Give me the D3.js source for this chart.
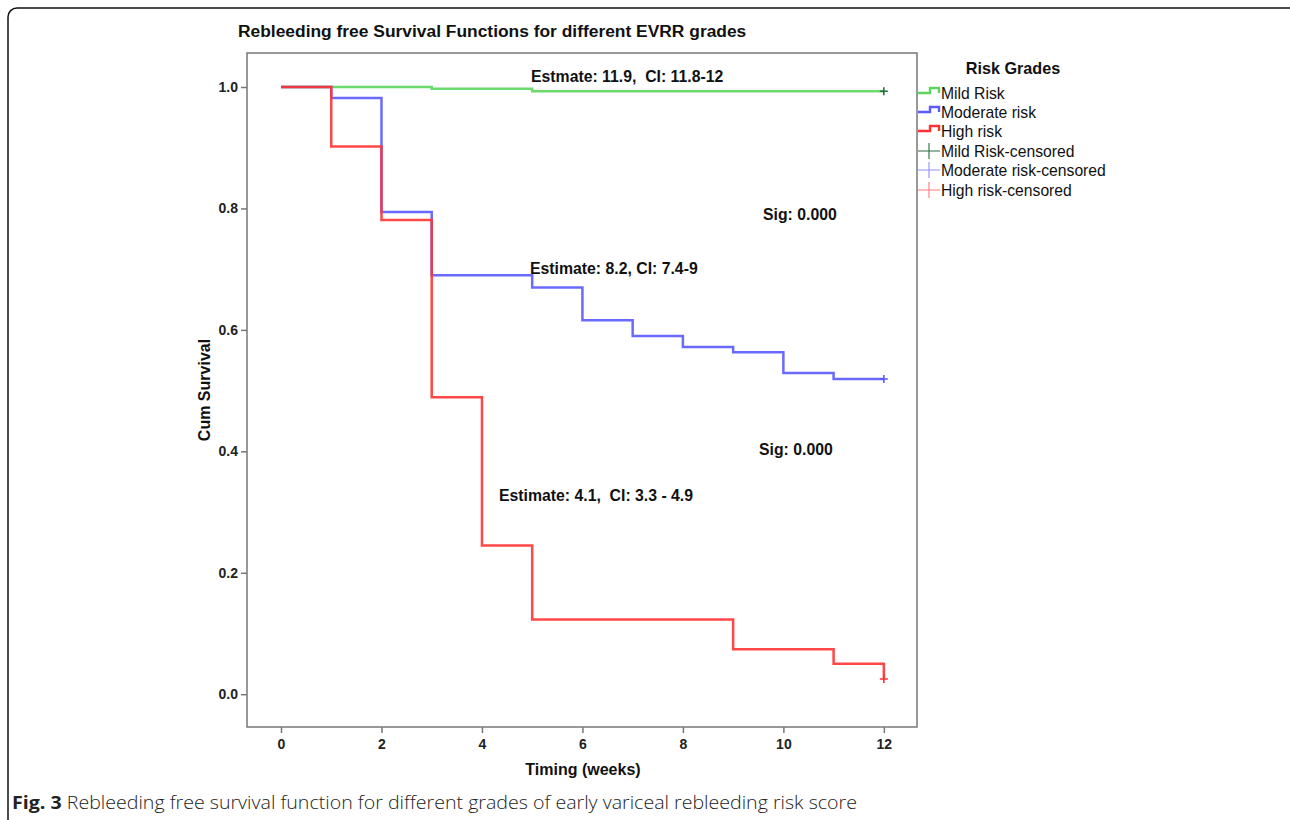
<!DOCTYPE html>
<html>
<head>
<meta charset="utf-8">
<script src="https://cdn.jsdelivr.net/npm/d3@7"></script>
<style>
  body { margin: 0; background: #fff; }
  svg { display: block; }
</style>
</head>
<body>
<svg id="chart" width="1290" height="820"></svg>
<script>
// survival steps: [week, cum survival]
const mildRisk = [[0, 1.0], [3, 0.997], [5, 0.993], [12, 0.993]];
const moderateRisk = [[0, 1.0], [1, 0.982], [2, 0.794], [3, 0.690], [5, 0.670], [6, 0.616],
  [7, 0.590], [8, 0.572], [9, 0.563], [10, 0.529], [11, 0.519], [12, 0.519]];
const highRisk = [[0, 1.0], [1, 0.902], [2, 0.781], [3, 0.489], [4, 0.245], [5, 0.123],
  [9, 0.074], [11, 0.050], [12, 0.025]];
const censored = [[12, 0.993], [12, 0.519], [12, 0.025]];

const seriesNames = ["Mild Risk", "Moderate risk", "High risk"];
const censorNames = ["Mild Risk-censored", "Moderate risk-censored", "High risk-censored"];
const xTicks = [0, 2, 4, 6, 8, 10, 12];
const yTicks = [0.0, 0.2, 0.4, 0.6, 0.8, 1.0];

const lineColors = ["#5cd65c", "#5a5aff", "#ff3333"];
const censorColors = ["#2d6b40", "#8f8fff", "#ff7a7a"];

const svg = d3.select("#chart");
const bold = "'Liberation Sans', Arial, sans-serif";
const narrow = "'Liberation Sans Narrow', 'Liberation Sans', Arial, sans-serif";

// outer frame, runs off the right and bottom edges
svg.append("rect")
  .attr("x", 8).attr("y", 8).attr("width", 1300).attr("height", 830)
  .attr("rx", 9).attr("fill", "none").attr("stroke", "#111").attr("stroke-width", 1.5);

const box = { left: 247, top: 53, right: 917, bottom: 727 };
const x = d3.scaleLinear().domain([-0.677, 12.66]).range([box.left, box.right]);
const y = d3.scaleLinear().domain([-0.054, 1.056]).range([box.bottom, box.top]);

svg.append("text")
  .attr("x", 238).attr("y", 37)
  .attr("font-family", bold).attr("font-weight", "bold").attr("font-size", 17.4)
  .attr("fill", "#111")
  .text("Rebleeding free Survival Functions for different EVRR grades");

svg.append("rect")
  .attr("x", box.left).attr("y", box.top)
  .attr("width", box.right - box.left).attr("height", box.bottom - box.top)
  .attr("fill", "none").attr("stroke", "#777").attr("stroke-width", 1.5);

const yAxis = svg.append("g")
  .attr("transform", `translate(${box.left},0)`)
  .call(d3.axisLeft(y).tickValues(yTicks).tickFormat(d3.format(".1f")).tickSize(6).tickPadding(3));
const xAxis = svg.append("g")
  .attr("transform", `translate(0,${box.bottom})`)
  .call(d3.axisBottom(x).tickValues(xTicks).tickFormat(d3.format("d")).tickSize(6).tickPadding(6));
[xAxis, yAxis].forEach(g => {
  g.select(".domain").remove();
  g.selectAll(".tick line").attr("stroke", "#777").attr("stroke-width", 1.5);
  g.selectAll(".tick text")
    .attr("font-family", narrow)
    .attr("font-weight", "bold").attr("font-size", 14).attr("fill", "#222");
});

svg.append("text")
  .attr("x", 583).attr("y", 775)
  .attr("text-anchor", "middle")
  .attr("font-family", narrow)
  .attr("font-weight", "bold").attr("font-size", 16).attr("fill", "#111")
  .text("Timing (weeks)");

svg.append("text")
  .attr("transform", "translate(210,390) rotate(-90)")
  .attr("text-anchor", "middle")
  .attr("font-family", bold).attr("font-weight", "bold").attr("font-size", 16).attr("fill", "#111")
  .text("Cum Survival");

const line = d3.line()
  .x(d => x(d[0])).y(d => y(d[1]))
  .curve(d3.curveStepAfter);

[mildRisk, moderateRisk, highRisk].forEach((s, i) => {
  svg.append("path")
    .attr("d", line(s))
    .attr("fill", "none")
    .attr("stroke", lineColors[i])
    .attr("stroke-width", 2.5)
    .attr("stroke-opacity", 0.9);
});

censored.forEach((c, i) => {
  const cx = x(c[0]), cy = y(c[1]);
  svg.append("path")
    .attr("d", `M${cx - 4},${cy}H${cx + 4}M${cx},${cy - 4}V${cy + 4}`)
    .attr("stroke", i === 0 ? censorColors[0] : lineColors[i])
    .attr("stroke-width", 1.6);
});

// annotations
const notes = [
  ["Estmate: 11.9,  CI: 11.8-12", 531, 82],
  ["Sig: 0.000", 763, 220],
  ["Estimate: 8.2, CI: 7.4-9", 530, 274],
  ["Sig: 0.000", 759, 455],
  ["Estimate: 4.1,  CI: 3.3 - 4.9", 499, 501]
];
svg.selectAll(".note").data(notes).enter().append("text")
  .attr("class", "note")
  .attr("x", d => d[1]).attr("y", d => d[2])
  .attr("xml:space", "preserve")
  .style("white-space", "pre")
  .attr("font-family", bold).attr("font-weight", "bold").attr("font-size", 15.8).attr("fill", "#111")
  .text(d => d[0]);

// legend
svg.append("text")
  .attr("x", 1013).attr("y", 74).attr("text-anchor", "middle")
  .attr("font-family", bold).attr("font-weight", "bold").attr("font-size", 16.2).attr("fill", "#111")
  .text("Risk Grades");

const legendY = [93, 112, 131, 151, 170, 190];
seriesNames.forEach((n, i) => {
  const cy = legendY[i];
  svg.append("path")
    .attr("d", `M918,${cy}H930V${cy - 5}H939V${cy}`)
    .attr("fill", "none").attr("stroke", lineColors[i]).attr("stroke-width", 2.4);
  svg.append("text")
    .attr("x", 941).attr("y", cy + 5.5)
    .attr("font-family", bold).attr("font-size", 15.7).attr("fill", "#111")
    .text(n);
});
censorNames.forEach((n, i) => {
  const cy = legendY[i + 3];
  svg.append("path")
    .attr("d", `M918,${cy}H940M929,${cy - 8}V${cy + 8}`)
    .attr("fill", "none").attr("stroke", censorColors[i]).attr("stroke-width", 1.1);
  svg.append("text")
    .attr("x", 941).attr("y", cy + 5.5)
    .attr("font-family", bold).attr("font-size", 15.7).attr("fill", "#111")
    .text(n);
});

// figure caption
const cap = svg.append("text")
  .attr("x", 12).attr("y", 809)
  .attr("font-family", "'Open Sans', sans-serif").attr("font-size", 18.5).attr("fill", "#222")
  .attr("textLength", 845).attr("lengthAdjust", "spacingAndGlyphs");
cap.append("tspan").attr("font-weight", "bold").text("Fig. 3");
cap.append("tspan").attr("font-weight", 300)
  .text(" Rebleeding free survival function for different grades of early variceal rebleeding risk score");
</script>
</body>
</html>
